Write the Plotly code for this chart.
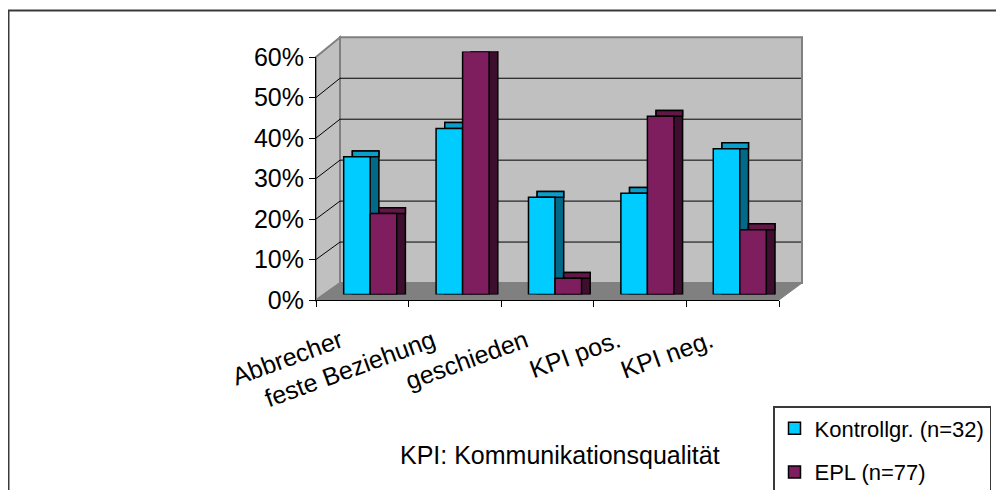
import plotly.graph_objects as go

# ---------------- data ----------------
categories = ["Abbrecher", "feste Beziehung", "geschieden", "KPI pos.", "KPI neg."]
kontroll = [0.34, 0.41, 0.24, 0.25, 0.36]
epl = [0.20, 0.60, 0.04, 0.44, 0.16]
series_names = ["Kontrollgr. (n=32)", "EPL (n=77)"]
y_ticks = [0, 0.1, 0.2, 0.3, 0.4, 0.5, 0.6]
note_text = "KPI: Kommunikationsqualität"

# ---------------- geometry helpers (screen pixels -> paper) ----------------
PAGE_OFF = 8                      # default body margin of the html page
W, H = 1004 - PAGE_OFF, 490 - PAGE_OFF
L, R, T, B = 316, 802, 37, 300    # plot area in screen px


def px(x):
    return (x - L) / (R - L)


def py(y):
    return (B - y) / (B - T)


FONT = "Liberation Sans, Arial, sans-serif"
n = len(categories)
xs = list(range(n))
bw = 0.287      # single bar width (category units)
dx = 0.094      # depth shift right (category units)
dy = 0.0145     # depth shift up (value units)

c_front, c_top, c_side = "#00CCFF", "#0A9FCB", "#006A88"
p_front, p_top, p_side = "#7E1E5E", "#621747", "#3D0E2E"
edge = dict(color="black", width=1.5)

fig = go.Figure()

series = [
    (series_names[0], kontroll, -bw, c_front, c_top, c_side),
    (series_names[1], epl, 0.0, p_front, p_top, p_side),
]

# depth faces (sides and tops)
for name, vals, off, fc, tc, sc in series:
    fig.add_trace(go.Bar(x=xs, y=[v + dy for v in vals], base=0, width=bw, offset=off + dx,
                         marker=dict(color=sc, line=edge), showlegend=False,
                         hoverinfo="skip", xaxis="x", yaxis="y"))
    fig.add_trace(go.Bar(x=xs, y=[dy] * n, base=vals, width=bw, offset=off + dx,
                         marker=dict(color=tc, line=edge), showlegend=False,
                         hoverinfo="skip", xaxis="x", yaxis="y"))

# front faces
for i, (name, vals, off, fc, tc, sc) in enumerate(series):
    fig.add_trace(go.Bar(x=xs, y=vals, width=bw, offset=off, name=name,
                         legendgroup=f"g{i}",
                         marker=dict(color=fc, line=edge),
                         xaxis="x", yaxis="y"))

# invisible anchor trace for the front (label) axes
fig.add_trace(go.Scatter(x=categories, y=[0] * n, mode="markers",
                         marker=dict(opacity=0), showlegend=False,
                         hoverinfo="skip", xaxis="x3", yaxis="y3"))

# ---------------- walls / floor / gridlines (decoration) ----------------
front_y = lambda v: 300 - v / 0.6 * 243
back_y = lambda v: 283 - v / 0.6 * 245.7
shapes = []
# outer frame
shapes.append(dict(type="rect", xref="paper", yref="paper", x0=px(8.5), x1=px(1030),
                   y0=py(520), y1=py(10.5), line=dict(color="#3a3a3a", width=2),
                   fillcolor="rgba(0,0,0,0)", layer="below"))
# side wall
shapes.append(dict(type="path", xref="paper", yref="paper",
                   path=f"M{px(316)},{py(front_y(0.6))} L{px(340)},{py(back_y(0.6))} "
                        f"L{px(340)},{py(back_y(0))} L{px(316)},{py(front_y(0))} Z",
                   fillcolor="#C0C0C0", line=dict(color="#808080", width=2), layer="below"))
# back wall
shapes.append(dict(type="rect", xref="paper", yref="paper", x0=px(340), x1=px(802),
                   y0=py(back_y(0)), y1=py(back_y(0.6)),
                   fillcolor="#C0C0C0", line=dict(color="#808080", width=2), layer="below"))
# floor
shapes.append(dict(type="path", xref="paper", yref="paper",
                   path=f"M{px(316)},{py(300)} L{px(340)},{py(283)} L{px(802)},{py(283)} "
                        f"L{px(779)},{py(300)} Z",
                   fillcolor="#808080", line=dict(color="#808080", width=1), layer="below"))
# gridlines
for v in y_ticks[1:-1]:
    shapes.append(dict(type="line", xref="paper", yref="paper",
                       x0=px(340), x1=px(801), y0=py(back_y(v)), y1=py(back_y(v)),
                       line=dict(color="black", width=1), layer="below"))
    shapes.append(dict(type="line", xref="paper", yref="paper",
                       x0=px(316), x1=px(340), y0=py(front_y(v)), y1=py(back_y(v)),
                       line=dict(color="black", width=1), layer="below"))

fig.update_layout(
    width=W, height=H, autosize=False,
    margin=dict(l=L - PAGE_OFF, r=W - (R - PAGE_OFF), t=T - PAGE_OFF,
                b=H - (B - PAGE_OFF), autoexpand=False),
    paper_bgcolor="white", plot_bgcolor="rgba(0,0,0,0)",
    barmode="overlay",
    font=dict(family=FONT, size=22, color="black"),
    shapes=shapes,
    xaxis=dict(domain=[px(324), px(786)], range=[-0.5, 4.5], visible=False,
               fixedrange=True),
    yaxis=dict(domain=[py(294.5), py(51.5)], range=[0, 0.6], visible=False,
               fixedrange=True),
    xaxis3=dict(domain=[px(316), px(779)], anchor="y3", type="category",
                categoryorder="array", categoryarray=categories,
                range=[-0.5, 4.5], tickson="boundaries", ticks="outside",
                ticklen=6, tickcolor="black", showline=True, linecolor="black",
                linewidth=1, showgrid=False, zeroline=False, tickangle=-20,
                ticklabelstandoff=16, ticklabelshift=-22,
                tickfont=dict(family=FONT, size=25)),
    yaxis3=dict(domain=[py(300), py(57)], anchor="x3", range=[0, 0.6],
                tickvals=y_ticks, tickformat=".0%", ticks="outside", ticklen=6,
                tickcolor="black", showline=True, linecolor="black", linewidth=1,
                showgrid=False, zeroline=False,
                tickfont=dict(family=FONT, size=25)),
    legend=dict(x=px(773), y=py(406), xanchor="left", yanchor="top",
                bgcolor="white", bordercolor="#3a3a3a", borderwidth=1.5,
                font=dict(family=FONT, size=22), tracegroupgap=12,
                traceorder="grouped"),
    annotations=[dict(text=note_text, xref="paper", yref="paper",
                      x=px(560), y=py(455), xanchor="center", yanchor="middle",
                      showarrow=False, font=dict(family=FONT, size=25))],
)

fig.write_html("out.html")
